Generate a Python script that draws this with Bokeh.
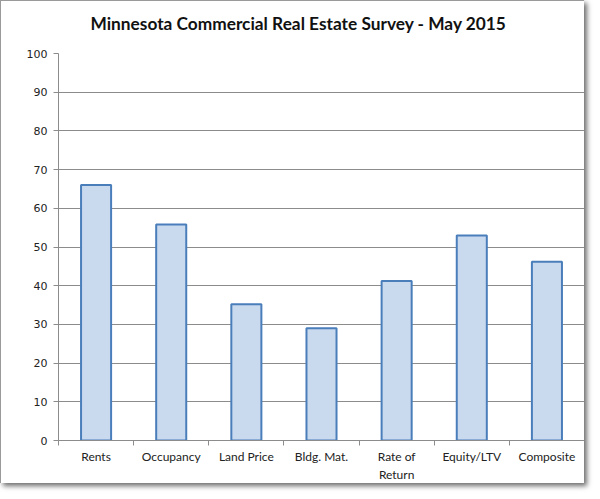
from bokeh.plotting import figure
from bokeh.models import FixedTicker, Range1d, ColumnDataSource, Title
from bokeh.embed import file_html
from bokeh.resources import INLINE

title_text = "Minnesota Commercial Real Estate Survey  -  May 2015"
categories = ["Rents", "Occupancy", "Land Price", "Bldg. Mat.", "Rate of\nReturn", "Equity/LTV", "Composite"]
values = [66.0, 55.8, 35.2, 29.0, 41.2, 53.0, 46.2]
y_ticks = [0, 10, 20, 30, 40, 50, 60, 70, 80, 90, 100]

xpos = [i + 0.5 for i in range(len(categories))]
src = ColumnDataSource(dict(x=xpos, top=values))

p = figure(width=584, height=483, output_backend="svg", toolbar_location=None,
           x_range=Range1d(0, len(categories)), y_range=Range1d(0, 100),
           min_border_left=57, min_border_right=1, min_border_top=52, min_border_bottom=43)
p.styles = {"border-left": "1px solid #9a9a9a", "border-top": "1px solid #9a9a9a",
            "box-shadow": "3px 3px 5px #6e6e6e"}

# main title, with a small spacer panel between it and the plot frame
p.title.text = title_text
p.title.align = "left"
p.title.offset = 32
p.title.vertical_align = "bottom"
p.title.text_font = "Lato"
p.title.text_font_size = "17.3px"
p.title.text_font_style = "bold"
p.title.text_color = "#111111"
p.title.standoff = 0

spacer = Title(text=" ", text_font_size="1px", standoff=17)
p.add_layout(spacer, "above")

p.vbar(x="x", top="top", width=0.4, bottom=0, source=src,
       fill_color="#c9d9ee", line_color="#4a7ebb", line_width=2)

p.outline_line_color = None
p.xgrid.grid_line_color = None
p.ygrid.grid_line_color = "#8c8c8c"
p.ygrid.grid_line_width = 1
p.yaxis.ticker = FixedTicker(ticks=y_ticks)
p.yaxis.minor_tick_line_color = None
p.yaxis.axis_line_color = "#8c8c8c"
p.yaxis.major_tick_line_color = "#8c8c8c"
p.yaxis.major_tick_out = 5
p.yaxis.major_tick_in = 0
p.yaxis.major_label_text_font = "DejaVu Sans"
p.yaxis.major_label_text_font_size = "11px"
p.yaxis.major_label_text_color = "#222222"
p.yaxis.major_label_standoff = 6

p.xaxis.ticker = FixedTicker(ticks=xpos, minor_ticks=list(range(len(categories) + 1)))
p.xaxis.major_label_overrides = {x: c for x, c in zip(xpos, categories)}
p.xaxis.axis_line_color = "#8c8c8c"
p.xaxis.major_tick_line_color = None
p.xaxis.major_tick_out = 0
p.xaxis.major_tick_in = 0
p.xaxis.minor_tick_line_color = "#8c8c8c"
p.xaxis.minor_tick_out = 5
p.xaxis.minor_tick_in = 0
p.xaxis.major_label_text_font = "Lato"
p.xaxis.major_label_text_font_size = "12px"
p.xaxis.major_label_text_color = "#222222"
p.xaxis.major_label_standoff = 3

open("out.html", "w").write(file_html(p, INLINE))
